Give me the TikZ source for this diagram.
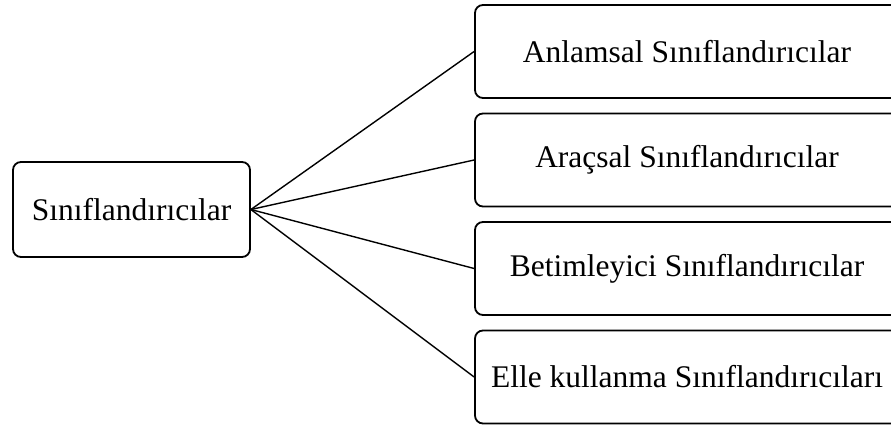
\documentclass[tikz,border=0pt]{standalone}
\usepackage{fontspec}
\setmainfont{Liberation Serif}
\begin{document}
\begin{tikzpicture}[x=1pt, y=-1pt,
                    kutu/.style = {draw, rounded corners=8pt, line width=1.8pt, inner sep=0pt,
                                   font=\fontsize{31.5}{36}\selectfont},
                    sinif/.style = {kutu, minimum width=424pt, minimum height=93pt}]
                    \clip (0,0) rectangle (891,426);

                    \node[kutu, minimum width=237pt, minimum height=95pt] (kok) at (131.5,209.5) {Sınıflandırıcılar};

                    \node[sinif] (anlamsal) at (687,51.5) {Anlamsal Sınıflandırıcılar};
                    \node[sinif] (aracsal) at (687,160) {Araçsal Sınıflandırıcılar};
                    \node[sinif] (betimleyici) at (687,268.5) {Betimleyici Sınıflandırıcılar};
                    \node[sinif] (elle) at (687,377) {Elle kullanma Sınıflandırıcıları};

                    \draw[line width=1.4pt] (kok.east) -- (anlamsal.west);
                    \draw[line width=1.4pt] (kok.east) -- (aracsal.west);
                    \draw[line width=1.4pt] (kok.east) -- (betimleyici.west);
                    \draw[line width=1.4pt] (kok.east) -- (elle.west);
                \end{tikzpicture}
\end{document}
